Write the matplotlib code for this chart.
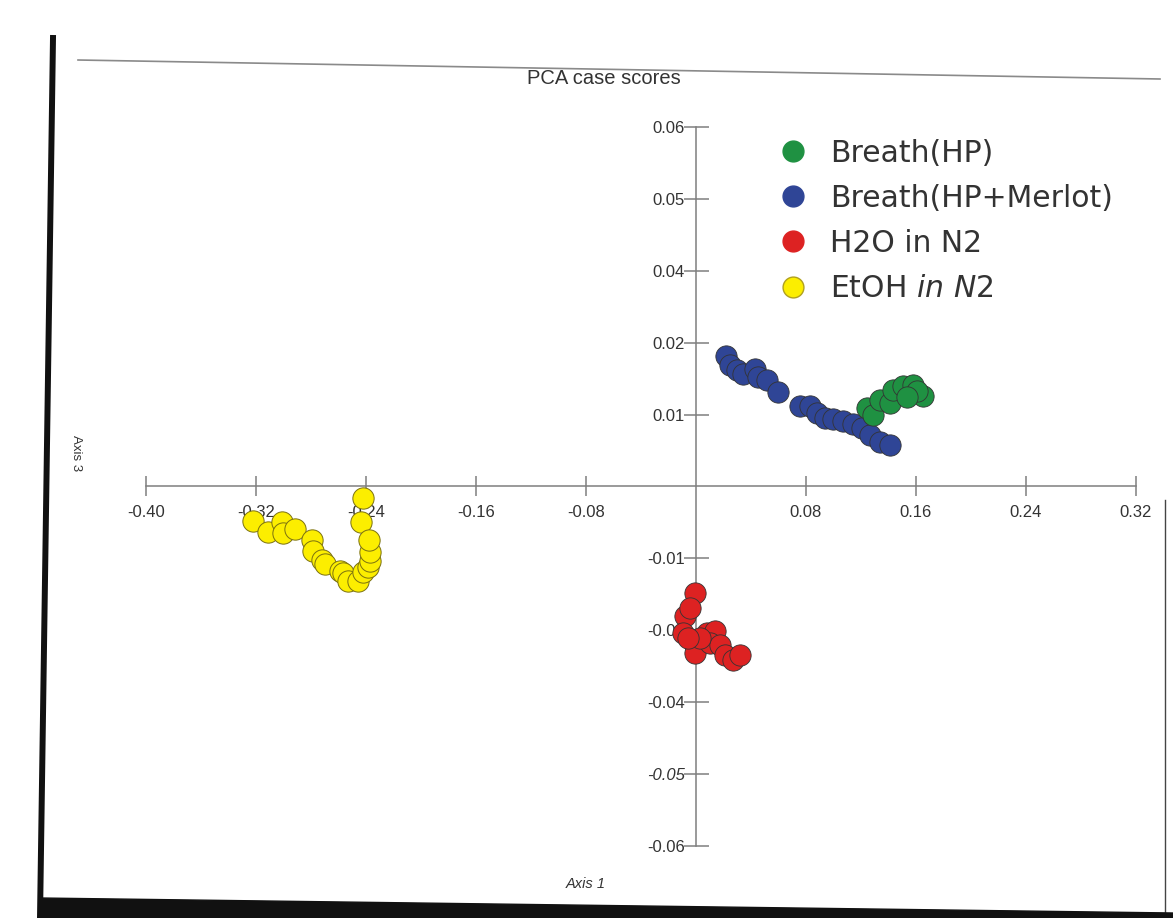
import matplotlib
matplotlib.use('Agg')
import matplotlib.pyplot as plt
from matplotlib.lines import Line2D
from matplotlib.patches import Polygon

plt.rcParams['font.family'] = ['Liberation Sans', 'DejaVu Sans']
plt.rcParams['mathtext.fontset'] = 'custom'
plt.rcParams['mathtext.rm'] = 'DejaVu Sans'
plt.rcParams['mathtext.it'] = 'DejaVu Sans:italic'

# PCA scores, axis 1 vs axis 3
hp_x = [0.1244, 0.1287, 0.1338, 0.1411, 0.1433, 0.1505, 0.1578, 0.1651, 0.1607, 0.1535]
hp_y = [0.0131, 0.0119, 0.0144, 0.0139, 0.0161, 0.0167, 0.0170, 0.0151, 0.0159, 0.0150]

merlot_x = [0.0218, 0.0247, 0.0298, 0.0342, 0.0429, 0.0451, 0.0516, 0.0596, 0.0756, 0.0829,
            0.0880, 0.0938, 0.0996, 0.1069, 0.1142, 0.1207, 0.1265, 0.1338, 0.1411]
merlot_y = [0.0218, 0.0203, 0.0195, 0.0187, 0.0196, 0.0183, 0.0178, 0.0158, 0.0134, 0.0134,
            0.0123, 0.0115, 0.0113, 0.0110, 0.0105, 0.0097, 0.0086, 0.0074, 0.0070]

h2o_x = [-0.0007, -0.0080, -0.0044, -0.0095, -0.0007, -0.0007, 0.0080, 0.0138, 0.0102, 0.0175,
         0.0211, 0.0269, 0.0320, 0.0029, -0.0058]
h2o_y = [-0.0178, -0.0216, -0.0203, -0.0244, -0.0264, -0.0278, -0.0244, -0.0241, -0.0261, -0.0264,
         -0.0282, -0.0290, -0.0281, -0.0253, -0.0253]

etoh_x = [-0.2422, -0.2436, -0.3222, -0.3113, -0.3011, -0.3004, -0.2916, -0.2793, -0.2785, -0.2720,
          -0.2698, -0.2589, -0.2567, -0.2531, -0.2458, -0.2422, -0.2385, -0.2371, -0.2371, -0.2378]
etoh_y = [-0.0019, -0.0059, -0.0057, -0.0076, -0.0059, -0.0078, -0.0071, -0.0090, -0.0108, -0.0122,
          -0.0130, -0.0141, -0.0144, -0.0157, -0.0157, -0.0142, -0.0134, -0.0124, -0.0109, -0.0089]

xticks = [-0.40, -0.32, -0.24, -0.16, -0.08, 0.08, 0.16, 0.24, 0.32]
yticks = [-0.060, -0.048, -0.036, -0.024, -0.012, 0.012, 0.024, 0.036, 0.048, 0.060]
ylabels = ['-0.06', '-0.05', '-0.04', '-0.02', '-0.01', '0.01', '0.02', '0.04', '0.05', '0.06']

c_green = '#1f9142'
c_blue = '#2f4596'
c_red = '#dd2222'
c_yellow = '#fcee00'
txt = '#333333'
axcol = '#7f7f7f'

W, H = 1173, 918
fig = plt.figure(figsize=(W / 100, H / 100), dpi=100)
ax = fig.add_axes([146 / W, 1 - 846 / H, 990 / W, 719 / H])

ms = 235
ec = '#333333'
ax.scatter(etoh_x, etoh_y, s=ms, c=c_yellow, edgecolors='#7a7010', linewidths=0.7, zorder=3)
ax.scatter(h2o_x, h2o_y, s=ms, c=c_red, edgecolors=ec, linewidths=0.6, zorder=3)
ax.scatter(merlot_x, merlot_y, s=ms, c=c_blue, edgecolors=ec, linewidths=0.6, zorder=3)
ax.scatter(hp_x, hp_y, s=ms, c=c_green, edgecolors=ec, linewidths=0.6, zorder=3)

ax.set_xlim(-0.40, 0.32)
ax.set_ylim(-0.06, 0.06)

for side in ['top', 'right']:
    ax.spines[side].set_visible(False)
ax.spines['left'].set_position(('data', 0))
ax.spines['bottom'].set_position(('data', 0))
for side in ['left', 'bottom']:
    ax.spines[side].set_color(axcol)
    ax.spines[side].set_linewidth(1.1)

ax.set_xticks(xticks)
ax.set_xticklabels(['%.2f' % v for v in xticks])
ax.set_yticks(yticks)
ax.set_yticklabels(ylabels)
ax.tick_params(axis='x', direction='inout', length=14, width=1.1, color=axcol,
               labelsize=12, labelcolor=txt, pad=6)
ax.tick_params(axis='y', direction='inout', length=18, width=1.1, color=axcol,
               labelsize=12, labelcolor=txt, pad=-1)
ax.get_yticklabels()[1].set_fontstyle('italic')
ax.patch.set_visible(False)

# legend
handles = [
    Line2D([], [], ls='', marker='o', ms=15, mfc=c_green, mec=c_green),
    Line2D([], [], ls='', marker='o', ms=15, mfc=c_blue, mec=c_blue),
    Line2D([], [], ls='', marker='o', ms=15, mfc=c_red, mec=c_red),
    Line2D([], [], ls='', marker='o', ms=15, mfc=c_yellow, mec='#b0a020'),
]
labels = ['Breath(HP)', 'Breath(HP+Merlot)', 'H2O in N2', r'EtOH $\mathit{in\ N2}$']
fig.legend(handles, labels, loc='upper left', bbox_to_anchor=(778.1 / W, 1 - 138.7 / H),
           frameon=False, borderpad=0, borderaxespad=0, handlelength=1.0,
           handletextpad=0.74, labelspacing=0.54,
           prop={'family': 'DejaVu Sans', 'size': 21.5}, labelcolor=txt)

fig.text(604 / W, 1 - 79 / H, 'PCA case scores', ha='center', va='center',
         fontsize=14.5, color=txt)
fig.text(586 / W, 1 - 884 / H, 'Axis 1', ha='center', va='center',
         fontsize=10.5, style='italic', color=txt)
fig.text(76 / W, 1 - 453 / H, 'Axis 3', ha='center', va='center',
         fontsize=9.5, rotation=-90, color=txt)


# page edges of the scanned figure
def px(x, y):
    return x / W, 1 - y / H


fig.add_artist(Line2D(*zip(px(78, 60), px(1160, 79)), color='#8a8a8a', lw=1.2))
fig.add_artist(Line2D(*zip(px(53, 38), px(40, 918)), color='#111111', lw=4.3))
fig.add_artist(Line2D(*zip(px(1165, 500), px(1165, 918)), color='#444444', lw=1.0))
fig.add_artist(Polygon([px(40, 898), px(W, 913), px(W, H), px(40, H)],
                       closed=True, color='#111111', transform=fig.transFigure, zorder=5))

fig.savefig('out.png', dpi=100, facecolor='white')
